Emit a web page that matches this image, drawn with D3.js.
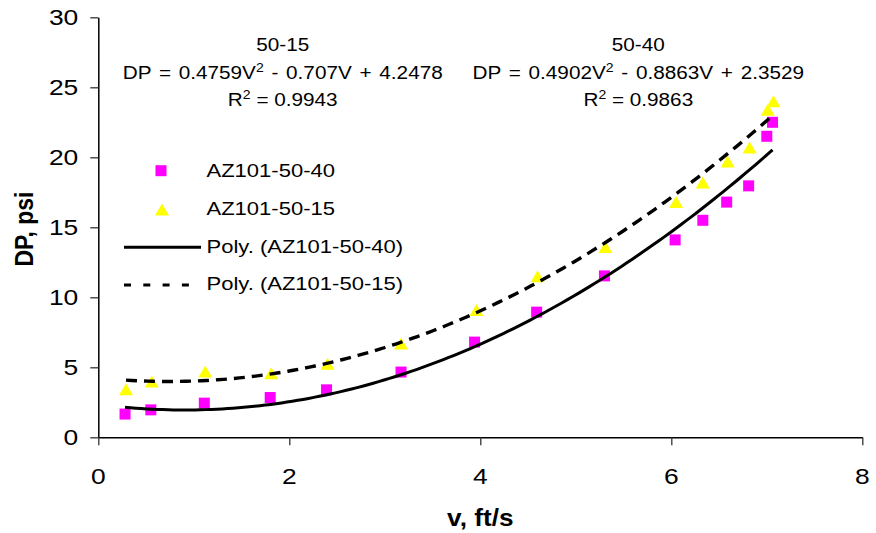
<!DOCTYPE html>
<html>
<head>
<meta charset="utf-8">
<script src="https://cdn.jsdelivr.net/npm/d3@7"></script>
<style>
  html, body { margin: 0; padding: 0; background: #fff; }
  svg { display: block; font-family: "Liberation Sans", Arial, Helvetica, sans-serif; }
</style>
</head>
<body>
<svg id="chart" width="876" height="533"></svg>
<script>
// ---- data ----
const x_50_40 = [0.28, 0.55, 1.11, 1.80, 2.39, 3.17, 3.94, 4.59, 5.30, 6.04, 6.33, 6.58, 6.81, 7.00, 7.06];
const y_50_40 = [1.66, 1.96, 2.44, 2.84, 3.39, 4.66, 6.80, 8.94, 11.53, 14.10, 15.50, 16.80, 17.96, 21.50, 22.50];
const x_50_15 = [0.29, 0.56, 1.12, 1.81, 2.40, 3.17, 3.96, 4.60, 5.31, 6.05, 6.33, 6.59, 6.82, 7.01, 7.07];
const y_50_15 = [3.44, 3.99, 4.70, 4.58, 5.25, 6.70, 9.10, 11.50, 13.60, 16.80, 18.20, 19.70, 20.70, 23.40, 24.00];
// polynomial trendline coefficients shown on the chart [a (V^2), b (V), c]
const coef_50_40 = [0.4902, -0.8863, 2.3529];
const coef_50_15 = [0.4759, -0.707, 4.2478];
const xTicks = [0, 2, 4, 6, 8];
const yTicks = [0, 5, 10, 15, 20, 25, 30];
const seriesNames = ["AZ101-50-40", "AZ101-50-15", "Poly. (AZ101-50-40)", "Poly. (AZ101-50-15)"];
const eq_50_15 = ["50-15", "DP = 0.4759V", " - 0.707V  + 4.2478", "0.9943"];
const eq_50_40 = ["50-40", "DP = 0.4902V", " - 0.8863V  + 2.3529", "0.9863"];

// ---- layout ----
const svg = d3.select("#chart");
const X0 = 98.3, X1 = 862.3, Y0 = 437.3, Y1 = 17.3;
const x = d3.scaleLinear().domain([0, 8]).range([X0, X1]);
const y = d3.scaleLinear().domain([0, 30]).range([Y0, Y1]);
const SX = 1.12; // horizontal stretch of the reference's text

function stretchedText(g, tx, ty, sx, size, anchor, weight) {
  return g.append("text")
    .attr("transform", `translate(${tx},${ty}) scale(${sx},1)`)
    .attr("text-anchor", anchor || "start")
    .attr("font-size", size)
    .attr("font-weight", weight || "normal")
    .attr("fill", "#000");
}

// axes
const yAxis = d3.axisLeft(y).tickValues(yTicks).tickSize(8).tickSizeOuter(0).tickFormat("");
const xAxis = d3.axisBottom(x).tickValues(xTicks).tickSize(8).tickSizeOuter(0).tickFormat("");
const gy = svg.append("g").attr("transform", `translate(${X0},0)`).call(yAxis);
const gx = svg.append("g").attr("transform", `translate(0,${Y0})`).call(xAxis);
[gy, gx].forEach(g => {
  g.select(".domain").attr("stroke", "#000").attr("stroke-width", 1.5);
  g.selectAll(".tick line").attr("stroke", "#333").attr("stroke-width", 1.3);
});

// tick labels
const tl = svg.append("g");
yTicks.forEach(v => {
  stretchedText(tl, X0 - 20, y(v) + 7.9, 1.2, 22, "end").text(v);
});
xTicks.forEach(v => {
  stretchedText(tl, x(v), 483.5, 1.2, 22, "middle").text(v);
});

// axis titles
stretchedText(svg, (X0 + X1) / 2, 525.5, 1.14, 23, "middle", "bold").text("v, ft/s");
svg.append("text")
  .attr("transform", `translate(33,229) scale(1.14,1) rotate(-90)`)
  .attr("text-anchor", "middle")
  .attr("font-size", 23)
  .attr("font-weight", "bold")
  .attr("fill", "#000")
  .text("DP, psi");

// markers
const sq = 11;
const triPath = (w, h) => `M0,${-h/2}L${w/2},${h/2}L${-w/2},${h/2}Z`;
const pts40 = x_50_40.map((v, i) => [v, y_50_40[i]]);
const pts15 = x_50_15.map((v, i) => [v, y_50_15[i]]);

svg.append("g").selectAll("rect").data(pts40).join("rect")
  .attr("x", d => x(d[0]) - sq / 2).attr("y", d => y(d[1]) - sq / 2)
  .attr("width", sq).attr("height", sq).attr("fill", "#FF00FF");

svg.append("g").selectAll("path").data(pts15).join("path")
  .attr("transform", d => `translate(${x(d[0])},${y(d[1])})`)
  .attr("d", triPath(14, 12)).attr("fill", "#FFFF00");

// trendlines
function trend(coef, xs) {
  const lo = d3.min(xs), hi = d3.max(xs);
  return d3.range(0, 121).map(i => {
    const v = lo + (hi - lo) * i / 120;
    return [v, coef[0] * v * v + coef[1] * v + coef[2]];
  });
}
const line = d3.line().x(d => x(d[0])).y(d => y(d[1]));
svg.append("path").attr("d", line(trend(coef_50_40, x_50_40)))
  .attr("fill", "none").attr("stroke", "#000").attr("stroke-width", 3);
svg.append("path").attr("d", line(trend(coef_50_15, x_50_15)))
  .attr("fill", "none").attr("stroke", "#000").attr("stroke-width", 3.4)
  .attr("stroke-dasharray", "11,7");

// equation labels
function equation(cx, eq) {
  const g = svg.append("g");
  stretchedText(g, cx, 50.5, SX, 18.5, "middle").text(eq[0]);
  const t = stretchedText(g, cx, 78.5, SX, 18.5, "middle").attr("word-spacing", 1.8);
  t.append("tspan").text(eq[1]);
  t.append("tspan").attr("dy", -7).attr("font-size", 12.5).text("2");
  t.append("tspan").attr("dy", 7).text(eq[2]);
  const r = stretchedText(g, cx, 106, SX, 18.5, "middle");
  r.append("tspan").text("R");
  r.append("tspan").attr("dy", -7).attr("font-size", 12.5).text("2");
  r.append("tspan").attr("dy", 7).text(" = " + eq[3]);
}
equation(282.7, eq_50_15);
equation(638.3, eq_50_40);

// legend
const lg = svg.append("g");
lg.append("rect").attr("x", 161 - sq / 2).attr("y", 170.7 - sq / 2)
  .attr("width", sq).attr("height", sq).attr("fill", "#FF00FF");
lg.append("path").attr("transform", "translate(162,209.5)")
  .attr("d", triPath(14, 12)).attr("fill", "#FFFF00");
lg.append("line").attr("x1", 124).attr("x2", 201).attr("y1", 247.3).attr("y2", 247.3)
  .attr("stroke", "#000").attr("stroke-width", 3);
lg.append("line").attr("x1", 124).attr("x2", 201).attr("y1", 285).attr("y2", 285)
  .attr("stroke", "#000").attr("stroke-width", 3.2).attr("stroke-dasharray", "7,12.3");
const lgY = [177, 215, 253, 290];
seriesNames.forEach((n, i) => {
  stretchedText(lg, 206.5, lgY[i], 1.19, 18.5, "start").text(n);
});
</script>
</body>
</html>
